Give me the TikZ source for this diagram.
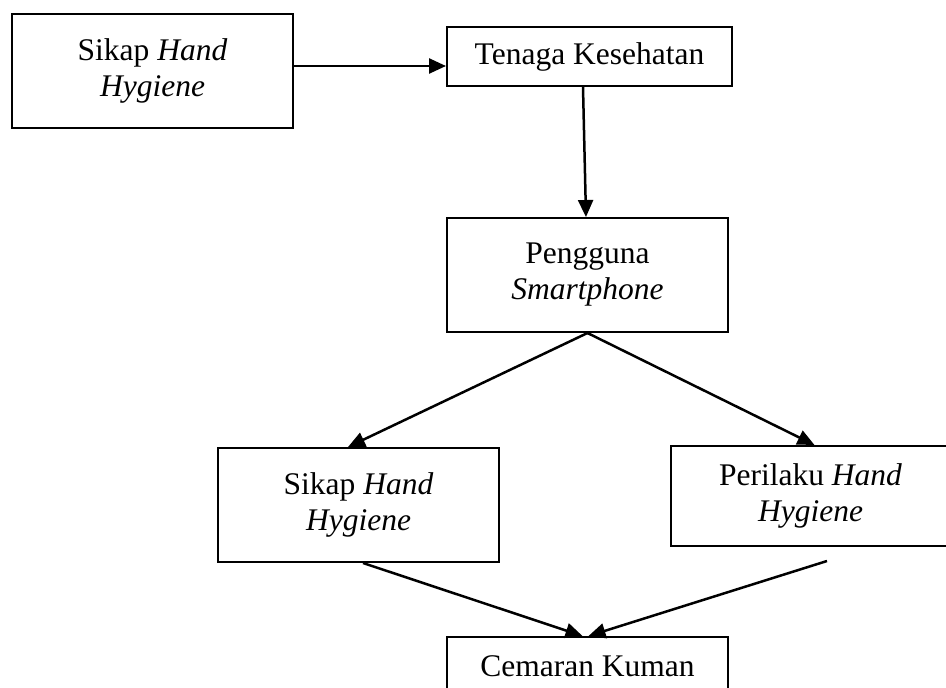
\documentclass[tikz,border=0pt]{standalone}
\usepackage{fontspec}
\setmainfont{Liberation Serif}
\usetikzlibrary{calc,arrows.meta}

\tikzset{
	kotak/.style={draw, line width=2pt, align=center, inner sep=0pt, font=\fontsize{31.5}{36}\selectfont},
	panah/.style={line width=2.5pt, -{Triangle[length=17pt, width=15pt]}}
}

\begin{document}
\begin{tikzpicture}[x=1pt, y=-1pt]
	%%%%% START %%%%%
	
	\clip (0, 0) rectangle (946, 688);
	
	\node[kotak, minimum width=281pt, minimum height=114pt] (sikapatas) at (152.5, 71) {Sikap \textit{Hand}\\\textit{Hygiene}};
	\node[kotak, minimum width=285pt, minimum height=59pt] (tenaga) at (589.5, 56.5) {Tenaga Kesehatan};
	\node[kotak, minimum width=281pt, minimum height=114pt] (pengguna) at (587.5, 275) {Pengguna\\\textit{Smartphone}};
	
	\node[kotak, minimum width=281pt, minimum height=114pt] (sikap) at (358.5, 505) {Sikap \textit{Hand}\\\textit{Hygiene}};
	\node[kotak, minimum width=279pt, minimum height=100pt] (perilaku) at (810.5, 496) {Perilaku \textit{Hand}\\\textit{Hygiene}};
	
	\node[kotak, minimum width=281pt, minimum height=59pt] (cemaran) at (587.5, 666.5) {Cemaran Kuman};
	\coordinate (perilakuujung) at (827, 561);
	
	\draw[panah] ($(sikapatas.east)+(0, -5)$) -- ($(tenaga.west)+(0, 9.5)$);
	\draw[panah] ($(tenaga.south)+(-6.5, 0)$) -- ($(pengguna.north)+(-1.5, 0)$);
	
	\draw[panah] (pengguna.south) -- ($(sikap.north)+(-10.5, 0)$);
	\draw[panah] (pengguna.south) -- ($(perilaku.north)+(4, 0)$);
	
	\draw[panah] ($(sikap.south)+(4.5, 0)$) -- ($(cemaran.north)+(-5, 0)$);
	\draw[panah] (perilakuujung) -- ($(cemaran.north)+(1, 0)$);
	
	%%%%% END %%%%%
\end{tikzpicture}
\end{document}
